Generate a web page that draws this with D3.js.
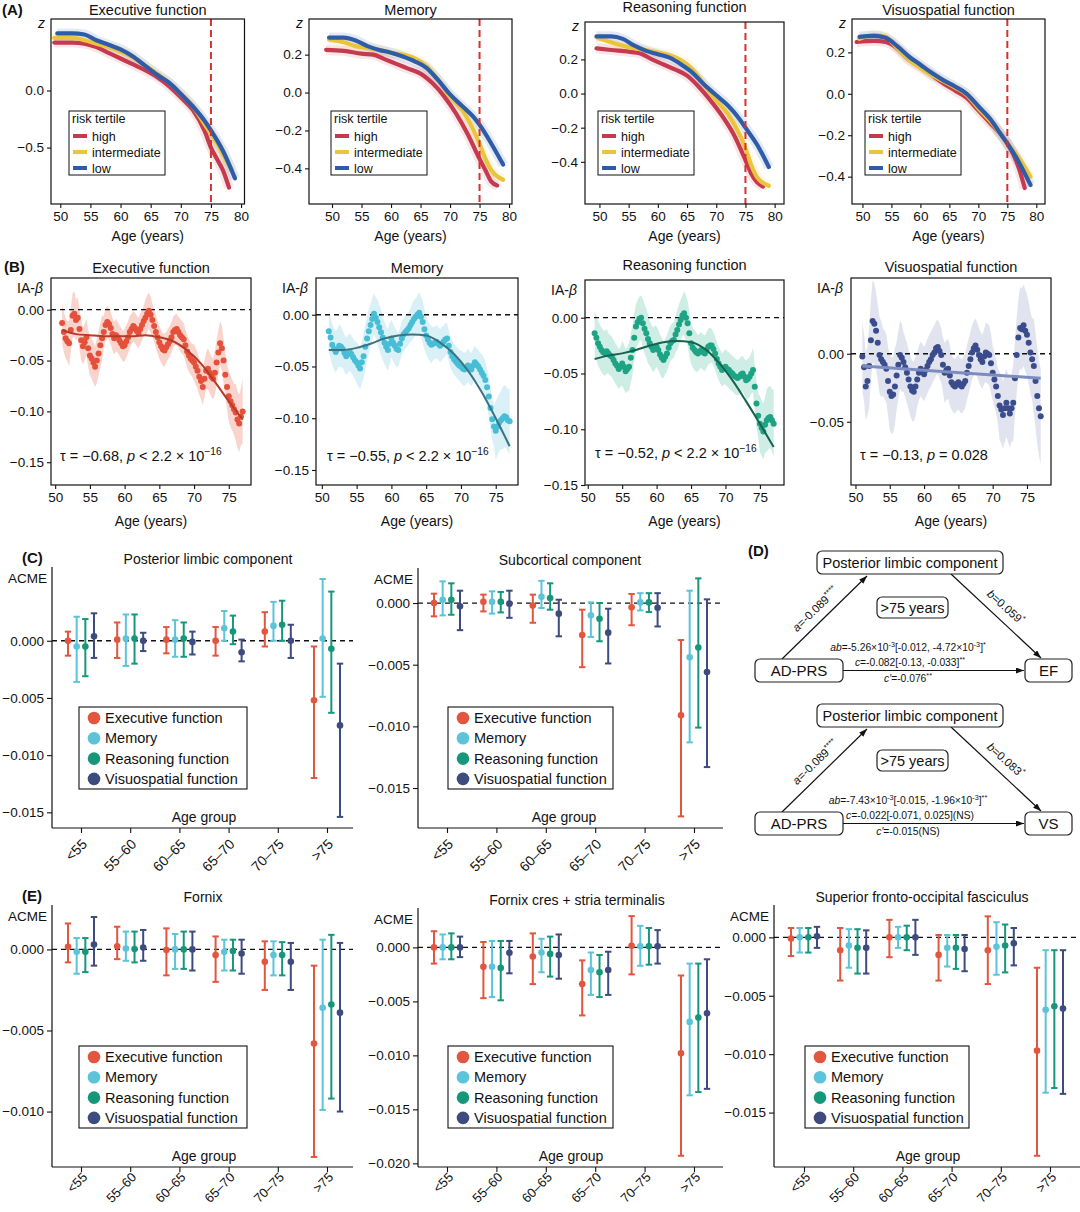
<!DOCTYPE html>
<html>
<head>
<meta charset="utf-8">
<script src="https://cdn.jsdelivr.net/npm/d3@7"></script>
<style>
  body { margin: 0; background: #fff; }
  text { font-family: "Liberation Sans", Arial, Helvetica, sans-serif; fill: #111; }
</style>
</head>
<body>
<svg id="fig" width="1080" height="1212"></svg>
<script>
// ---------- panel A: z-score trajectories by AD risk tertile ----------
const riskLevels = ['high', 'intermediate', 'low'];
const riskColors = ['#c63a4f', '#eac53c', '#2f5ca8'];
const aAgeTicks = [50, 55, 60, 65, 70, 75, 80];

const aEF_high = [[49,0.42],[52,0.42],[54,0.41],[56,0.38],[58,0.33],[60,0.28],[62,0.23],[64,0.18],[66,0.12],[68,0.04],[70,-0.06],[72,-0.17],[74,-0.36],[75,-0.5],[76,-0.6],[77,-0.7],[78,-0.85]];
const aEF_int  = [[49,0.46],[52,0.46],[54,0.44],[56,0.41],[58,0.38],[60,0.34],[62,0.29],[64,0.22],[66,0.15],[68,0.07],[70,-0.03],[72,-0.14],[74,-0.3],[75,-0.38],[76,-0.46],[77,-0.56],[78.5,-0.7]];
const aEF_low  = [[49.5,0.5],[52,0.5],[54,0.49],[56,0.44],[58,0.4],[60,0.36],[62,0.3],[64,0.22],[66,0.14],[68,0.07],[70,-0.03],[72,-0.14],[74,-0.27],[75,-0.35],[77,-0.53],[79,-0.77]];

const aMEM_high = [[49,0.225],[52,0.22],[55,0.205],[57,0.2],[59,0.175],[61,0.15],[63,0.125],[65,0.1],[67,0.05],[69,-0.02],[71,-0.11],[73,-0.22],[75,-0.35],[76,-0.41],[77,-0.47],[78,-0.49]];
const aMEM_int  = [[49.5,0.28],[52,0.265],[54,0.245],[56,0.235],[58,0.225],[60,0.21],[62,0.2],[64,0.18],[66,0.14],[68,0.065],[70,-0.02],[72,-0.09],[74,-0.2],[75,-0.27],[76,-0.35],[77,-0.41],[79,-0.46]];
const aMEM_low  = [[49.5,0.29],[52,0.29],[54,0.275],[56,0.245],[58,0.225],[60,0.21],[62,0.19],[64,0.165],[66,0.13],[68,0.065],[70,-0.01],[72,-0.07],[74,-0.13],[75,-0.17],[77,-0.27],[79,-0.38]];

const aRF_high = [[49.5,0.265],[52,0.255],[55,0.245],[57,0.235],[59,0.2],[61,0.17],[63,0.14],[65,0.105],[67,0.04],[69,-0.04],[71,-0.13],[73,-0.24],[75,-0.39],[76,-0.47],[77,-0.52],[78,-0.545]];
const aRF_int  = [[49.5,0.33],[52,0.3],[54,0.28],[56,0.265],[58,0.255],[60,0.24],[62,0.225],[64,0.195],[66,0.14],[68,0.05],[70,-0.04],[72,-0.12],[74,-0.24],[75,-0.32],[76,-0.42],[77,-0.49],[79,-0.54]];
const aRF_low  = [[49.5,0.335],[52,0.335],[54,0.32],[56,0.28],[58,0.25],[60,0.23],[62,0.21],[64,0.17],[66,0.12],[68,0.05],[70,-0.01],[72,-0.07],[74,-0.15],[75,-0.2],[77,-0.3],[79,-0.43]];

const aVS_high = [[49,0.25],[52,0.255],[54,0.25],[56,0.22],[58,0.165],[60,0.13],[62,0.09],[64,0.05],[66,0.015],[68,-0.02],[70,-0.08],[72,-0.14],[74,-0.2],[75,-0.24],[76,-0.29],[77,-0.36],[78,-0.455]];
const aVS_int  = [[49.5,0.265],[52,0.285],[54,0.275],[56,0.22],[58,0.165],[60,0.125],[62,0.09],[64,0.06],[66,0.03],[68,-0.005],[70,-0.07],[72,-0.13],[74,-0.2],[75,-0.24],[77,-0.31],[79,-0.4]];
const aVS_low  = [[49.5,0.275],[52,0.28],[54,0.27],[56,0.23],[58,0.18],[60,0.14],[62,0.1],[64,0.065],[66,0.035],[68,0],[70,-0.06],[72,-0.12],[74,-0.2],[75,-0.24],[77,-0.33],[79,-0.44]];

// ---------- panel B: interaction beta by age ----------
const bAges = d3.range(51, 77.001, 0.25);
const bAgeTicks = [50, 55, 60, 65, 70, 75];
const bEF = [-0.013,-0.022,-0.028,-0.031,-0.033,-0.020,-0.006,-0.004,-0.010,-0.008,-0.019,-0.030,-0.036,-0.032,-0.027,-0.038,-0.045,-0.048,-0.052,-0.056,-0.050,-0.043,-0.035,-0.028,-0.022,-0.015,-0.012,-0.014,-0.018,-0.024,-0.028,-0.025,-0.027,-0.030,-0.033,-0.036,-0.035,-0.031,-0.027,-0.022,-0.019,-0.016,-0.018,-0.021,-0.023,-0.019,-0.015,-0.011,-0.008,-0.004,-0.001,-0.005,-0.010,-0.016,-0.022,-0.027,-0.032,-0.036,-0.039,-0.040,-0.037,-0.034,-0.031,-0.027,-0.022,-0.020,-0.019,-0.022,-0.025,-0.027,-0.029,-0.035,-0.041,-0.045,-0.048,-0.050,-0.052,-0.056,-0.060,-0.066,-0.070,-0.076,-0.068,-0.060,-0.058,-0.062,-0.066,-0.068,-0.062,-0.052,-0.042,-0.033,-0.038,-0.050,-0.064,-0.076,-0.085,-0.090,-0.094,-0.098,-0.101,-0.108,-0.112,-0.105,-0.100];
const bMEM = [-0.016,-0.022,-0.029,-0.033,-0.036,-0.033,-0.030,-0.031,-0.033,-0.037,-0.040,-0.038,-0.036,-0.038,-0.041,-0.044,-0.046,-0.049,-0.052,-0.046,-0.040,-0.031,-0.023,-0.016,-0.010,-0.004,0.001,-0.003,-0.007,-0.012,-0.017,-0.022,-0.027,-0.031,-0.034,-0.028,-0.023,-0.027,-0.030,-0.033,-0.034,-0.028,-0.023,-0.019,-0.017,-0.015,-0.013,-0.010,-0.007,-0.004,-0.002,0.000,0.002,-0.002,-0.007,-0.014,-0.020,-0.024,-0.027,-0.029,-0.028,-0.027,-0.026,-0.028,-0.030,-0.028,-0.026,-0.024,-0.023,-0.030,-0.036,-0.040,-0.043,-0.045,-0.047,-0.049,-0.050,-0.052,-0.053,-0.051,-0.049,-0.051,-0.053,-0.049,-0.046,-0.048,-0.050,-0.053,-0.056,-0.059,-0.063,-0.070,-0.079,-0.090,-0.101,-0.108,-0.112,-0.108,-0.104,-0.102,-0.100,-0.098,-0.099,-0.102,-0.103];
const bRF = [-0.014,-0.018,-0.023,-0.026,-0.029,-0.031,-0.032,-0.030,-0.032,-0.034,-0.035,-0.038,-0.041,-0.043,-0.046,-0.044,-0.041,-0.044,-0.048,-0.046,-0.044,-0.036,-0.029,-0.018,-0.008,-0.004,-0.001,0.000,-0.005,-0.010,-0.014,-0.019,-0.023,-0.026,-0.029,-0.027,-0.026,-0.029,-0.033,-0.036,-0.038,-0.035,-0.032,-0.027,-0.023,-0.021,-0.020,-0.015,-0.011,-0.006,-0.002,0.002,0.004,0.000,-0.005,-0.014,-0.023,-0.027,-0.029,-0.031,-0.032,-0.030,-0.029,-0.031,-0.032,-0.029,-0.026,-0.025,-0.025,-0.028,-0.032,-0.037,-0.041,-0.044,-0.047,-0.045,-0.044,-0.046,-0.047,-0.049,-0.050,-0.052,-0.053,-0.054,-0.053,-0.051,-0.050,-0.053,-0.056,-0.055,-0.053,-0.050,-0.047,-0.062,-0.077,-0.088,-0.095,-0.099,-0.102,-0.096,-0.092,-0.090,-0.089,-0.092,-0.095];
const bVS = [-0.002,-0.010,-0.024,-0.020,-0.009,0.010,0.024,0.022,0.017,0.008,-0.001,-0.004,-0.006,-0.008,-0.011,-0.020,-0.028,-0.031,-0.030,-0.024,-0.016,-0.008,-0.001,-0.003,-0.006,-0.010,-0.014,-0.019,-0.024,-0.027,-0.028,-0.024,-0.019,-0.014,-0.011,-0.013,-0.015,-0.012,-0.009,-0.006,-0.004,-0.001,0.001,0.004,0.005,0.002,-0.001,-0.008,-0.014,-0.012,-0.011,-0.016,-0.021,-0.023,-0.024,-0.022,-0.021,-0.023,-0.024,-0.022,-0.020,-0.014,-0.009,-0.004,0.001,0.004,0.006,0.003,-0.001,-0.004,-0.006,-0.002,0.001,0.000,-0.001,-0.007,-0.014,-0.019,-0.024,-0.031,-0.038,-0.041,-0.045,-0.040,-0.036,-0.040,-0.044,-0.040,-0.036,-0.018,-0.001,0.012,0.019,0.018,0.021,0.017,0.014,0.008,0.001,-0.004,-0.009,-0.020,-0.031,-0.040,-0.046];
// confidence half-width, one value per year of age 51..77
const bHW_EF  = [0.020,0.022,0.020,0.018,0.020,0.022,0.016,0.016,0.015,0.016,0.015,0.015,0.018,0.016,0.016,0.015,0.015,0.016,0.016,0.018,0.018,0.020,0.022,0.022,0.025,0.028,0.032];
const bHW_MEM = [0.020,0.020,0.018,0.018,0.020,0.022,0.020,0.022,0.020,0.018,0.016,0.016,0.018,0.020,0.018,0.016,0.016,0.015,0.015,0.016,0.016,0.016,0.018,0.020,0.028,0.030,0.032];
const bHW_RF  = [0.020,0.020,0.018,0.018,0.020,0.022,0.020,0.022,0.020,0.018,0.016,0.016,0.018,0.020,0.018,0.016,0.016,0.015,0.015,0.016,0.016,0.016,0.018,0.020,0.025,0.028,0.030];
const bHW_VS  = [0.025,0.030,0.028,0.025,0.028,0.025,0.022,0.022,0.020,0.020,0.020,0.020,0.022,0.020,0.020,0.020,0.020,0.020,0.022,0.020,0.025,0.025,0.028,0.030,0.030,0.035,0.035];
// smooth fits
const bFitAges = [51,53,55,57,59,61,63,65,67,69,71,73,75,77];
const bFitEF  = [-0.020,-0.024,-0.025,-0.026,-0.026,-0.026,-0.025,-0.027,-0.031,-0.040,-0.053,-0.071,-0.090,-0.108];
const bFitMEM = [-0.034,-0.034,-0.032,-0.028,-0.023,-0.020,-0.019,-0.020,-0.027,-0.038,-0.054,-0.075,-0.100,-0.127];
const bFitRF  = [-0.037,-0.034,-0.032,-0.029,-0.025,-0.022,-0.021,-0.022,-0.028,-0.040,-0.056,-0.075,-0.095,-0.116];
const bFitVSAges = [51, 77];
const bFitVS  = [-0.009, -0.018];

// ---------- panels C and E: ACME by age group ----------
const ageGroups = ['<55', '55–60', '60–65', '65–70', '70–75', '>75'];
const cogFunctions = ['Executive function', 'Memory', 'Reasoning function', 'Visuospatial function'];
const cogColors = ['#e2553f', '#5cc3d9', '#16977a', '#3d4b7e'];

// rows: EF, Memory, Reasoning, Visuospatial; columns: age groups
const postLimbicEst = [[0.0000,0.0001,0.0001,0.0000,0.0008,-0.0052],[-0.0005,0.0002,0.0001,0.0011,0.0013,0.0002],[-0.0005,0.0002,0.0002,0.0008,0.0014,-0.0007],[0.0004,0.0000,-0.0001,-0.0010,0.0000,-0.0074]];
const postLimbicHi  = [[0.0008,0.0016,0.0012,0.0012,0.0025,-0.0005],[0.0021,0.0023,0.0018,0.0026,0.0034,0.0054],[0.0019,0.0023,0.0016,0.0022,0.0035,0.0043],[0.0024,0.0007,0.0008,0.0001,0.0014,-0.0020]];
const postLimbicLo  = [[-0.0013,-0.0015,-0.0011,-0.0013,-0.0005,-0.0120],[-0.0036,-0.0022,-0.0014,0.0000,0.0000,-0.0049],[-0.0031,-0.0020,-0.0014,-0.0003,0.0000,-0.0063],[-0.0015,-0.0009,-0.0012,-0.0018,-0.0015,-0.0154]];

const subcorticalEst = [[0.0000,0.0001,-0.0002,-0.0026,-0.00035,-0.0091],[0.00027,0.0001,0.0005,-0.0010,0.00005,-0.0044],[0.00027,0.0001,0.0004,-0.00127,0.00005,-0.0036],[-0.00027,-0.00005,-0.00086,-0.0024,-0.00038,-0.0056]];
const subcorticalHi  = [[0.00076,0.00068,0.00068,-0.00054,0.00073,-0.0030],[0.00176,0.00095,0.0018,0.00005,0.0008,0.0010],[0.0016,0.0009,0.0016,0.0000,0.0008,0.0020],[0.0010,0.0010,0.00027,-0.00046,0.0008,0.0003]];
const subcorticalLo  = [[-0.00108,-0.00068,-0.0016,-0.0052,-0.0018,-0.0173],[-0.0010,-0.00086,-0.0004,-0.00275,-0.0006,-0.0113],[-0.00095,-0.00076,-0.00054,-0.0031,-0.00073,-0.0101],[-0.0022,-0.0012,-0.0027,-0.0049,-0.0019,-0.0133]];

const fornixEst = [[0.00016,0.0002,-0.00004,-0.00035,-0.00076,-0.0058],[-0.00014,0.00006,0,-0.00014,-0.00035,-0.0036],[-0.00014,0.00002,0,-0.0001,-0.00035,-0.0034],[0.0003,0.00012,0,-0.00025,-0.00076,-0.0039]];
const fornixHi  = [[0.0016,0.0014,0.0013,0.0008,0.0005,-0.0010],[0.0007,0.0011,0.00095,0.0006,0.0005,0.0006],[0.0007,0.0011,0.0011,0.0006,0.00045,0.0009],[0.0020,0.0012,0.0011,0.0006,0.0004,0.0004]];
const fornixLo  = [[-0.0008,-0.0006,-0.0016,-0.0020,-0.0025,-0.0128],[-0.0015,-0.0007,-0.0012,-0.0013,-0.0016,-0.0099],[-0.0014,-0.0008,-0.0012,-0.0013,-0.0016,-0.0092],[-0.0010,-0.0007,-0.0013,-0.0015,-0.0025,-0.0100]];

const fornixCresEst = [[0,-0.0018,-0.00084,-0.0034,0.00015,-0.0098],[0,-0.0018,-0.00047,-0.0021,0.0001,-0.0069],[0,-0.0019,-0.0006,-0.0023,0.0001,-0.0065],[0,-0.0005,-0.0007,-0.0021,0.0001,-0.0061]];
const fornixCresHi  = [[0.0015,0.0005,0.0013,-0.0012,0.0029,-0.0026],[0.0012,0.0006,0.0008,-0.00047,0.0020,-0.0015],[0.0013,0.0006,0.0010,-0.0007,0.0018,-0.0015],[0.0010,0.0006,0.0012,-0.0004,0.0016,-0.0011]];
const fornixCresLo  = [[-0.0015,-0.0047,-0.0034,-0.0063,-0.0025,-0.0193],[-0.0011,-0.0046,-0.0023,-0.0044,-0.0017,-0.0137],[-0.0011,-0.0049,-0.0027,-0.0046,-0.0016,-0.0134],[-0.0009,-0.0024,-0.0029,-0.0044,-0.0015,-0.0131]];

const sfofEst = [[-0.0001,-0.0011,0,-0.0015,-0.0011,-0.0097],[0,-0.0007,0,-0.0009,-0.0008,-0.0062],[0,-0.0009,0,-0.0009,-0.0007,-0.0059],[0.0001,-0.0009,0,-0.0010,-0.0005,-0.0061]];
const sfofHi  = [[0.0008,0.0008,0.0015,0.0002,0.0018,-0.0026],[0.0008,0.0007,0.0009,0.0002,0.0013,-0.0011],[0.0008,0.0007,0.0010,0.0002,0.0011,-0.0011],[0.0009,0.0006,0.0015,0.0002,0.0008,-0.0011]];
const sfofLo  = [[-0.0016,-0.0037,-0.0017,-0.0037,-0.0040,-0.0187],[-0.0013,-0.0026,-0.0009,-0.0025,-0.0032,-0.0133],[-0.0013,-0.0031,-0.0011,-0.0027,-0.0030,-0.0129],[-0.0009,-0.0031,-0.0015,-0.0029,-0.0024,-0.0134]];

const svg = d3.select('#fig');
const defs = svg.append('defs');

function styleAxis(g, size) {
  g.select('.domain').remove();
  g.selectAll('line').attr('stroke', '#111').attr('stroke-width', 1.1);
  g.selectAll('text').attr('font-size', size).attr('fill', '#111');
}

// text made of runs: {t, it: italic, sup: superscript}
function rich(parent, x, y, segs, size, anchor) {
  const t = parent.append('text').attr('x', x).attr('y', y)
    .attr('font-size', size).attr('text-anchor', anchor || 'start');
  let shift = 0;
  segs.forEach(s => {
    const ts = t.append('tspan').text(s.t);
    if (s.it) ts.attr('font-style', 'italic');
    const target = s.sup ? -size * 0.4 : 0;
    if (target !== shift) { ts.attr('dy', target - shift); shift = target; }
    if (s.sup) ts.attr('font-size', size * 0.7);
  });
  return t;
}

function panelLetter(x, y, s) {
  svg.append('text').attr('x', x).attr('y', y).attr('font-size', 15)
    .attr('font-weight', 'bold').text(s);
}

// ---------- draw A ----------
function drawA(p) {
  const x = d3.scaleLinear().domain(p.xDom).range([p.left, p.right]);
  const y = d3.scaleLinear().domain(p.yDom).range([p.bottom, p.top]);
  const g = svg.append('g');
  defs.append('clipPath').attr('id', 'clip' + p.id).append('rect')
    .attr('x', p.left).attr('y', p.top).attr('width', p.right - p.left).attr('height', p.bottom - p.top);
  const plot = g.append('g').attr('clip-path', `url(#clip${p.id})`);
  const line = d3.line().x(d => x(d[0])).y(d => y(d[1])).curve(d3.curveMonotoneX);

  p.series.forEach((s, i) => {
    plot.append('path').datum(s).attr('d', line).attr('fill', 'none')
      .attr('stroke', riskColors[i]).attr('stroke-opacity', 0.13).attr('stroke-width', 10);
  });
  p.series.forEach((s, i) => {
    plot.append('path').datum(s).attr('d', line).attr('fill', 'none')
      .attr('stroke', riskColors[i]).attr('stroke-width', 4.2).attr('stroke-linecap', 'round');
  });
  plot.append('line').attr('x1', x(75)).attr('x2', x(75)).attr('y1', p.top).attr('y2', p.bottom)
    .attr('stroke', '#d8302c').attr('stroke-width', 2).attr('stroke-dasharray', '7,4');

  g.append('rect').attr('x', p.left).attr('y', p.top).attr('width', p.right - p.left)
    .attr('height', p.bottom - p.top).attr('fill', 'none').attr('stroke', '#111').attr('stroke-width', 1.2);

  g.append('g').attr('transform', `translate(0,${p.bottom})`)
    .call(d3.axisBottom(x).tickValues(aAgeTicks).tickSize(4).tickPadding(3))
    .call(styleAxis, 13.5);
  g.append('g').attr('transform', `translate(${p.left},0)`)
    .call(d3.axisLeft(y).tickValues(p.yTicks).tickFormat(d3.format('.1f')).tickSize(4).tickPadding(3))
    .call(styleAxis, 13.5);

  g.append('text').attr('x', p.left - 6).attr('y', p.top + 9).attr('text-anchor', 'end')
    .attr('font-size', 14).attr('font-style', 'italic').text('z');
  g.append('text').attr('x', (p.left + p.right) / 2).attr('y', p.titleY).attr('text-anchor', 'middle')
    .attr('font-size', 14.5).text(p.title);
  g.append('text').attr('x', (p.left + p.right) / 2).attr('y', 241).attr('text-anchor', 'middle')
    .attr('font-size', 14).text('Age (years)');

  // legend
  const lg = g.append('g').attr('transform', `translate(${p.legendX},111)`);
  lg.append('rect').attr('width', 96).attr('height', 64).attr('fill', '#fff')
    .attr('stroke', '#111').attr('stroke-width', 1);
  lg.append('text').attr('x', 3).attr('y', 12).attr('font-size', 12.5).text('risk tertile');
  riskLevels.forEach((r, i) => {
    const yy = 25 + i * 16;
    lg.append('line').attr('x1', 4).attr('x2', 18).attr('y1', yy).attr('y2', yy)
      .attr('stroke', riskColors[i]).attr('stroke-width', 4);
    lg.append('text').attr('x', 23).attr('y', yy + 4.5).attr('font-size', 12.5).text(r);
  });
}

drawA({ id: 'A1', left: 51, right: 244.5, top: 19, bottom: 204, xDom: [48.46, 80.57], yDom: [-0.994, 0.626],
  yTicks: [0, -0.5], title: 'Executive function', titleY: 15, legendX: 69, series: [aEF_high, aEF_int, aEF_low] });
drawA({ id: 'A2', left: 309, right: 512, top: 19, bottom: 204, xDom: [46.1, 80.5], yDom: [-0.588, 0.388],
  yTicks: [0.2, 0, -0.2, -0.4], title: 'Memory', titleY: 15, legendX: 331, series: [aMEM_high, aMEM_int, aMEM_low] });
drawA({ id: 'A3', left: 585, right: 784, top: 22, bottom: 204, xDom: [47.53, 81.6], yDom: [-0.647, 0.419],
  yTicks: [0.2, 0, -0.2, -0.4], title: 'Reasoning function', titleY: 12, legendX: 598, series: [aRF_high, aRF_int, aRF_low] });
drawA({ id: 'A4', left: 852, right: 1045, top: 19, bottom: 204, xDom: [48.2, 81.5], yDom: [-0.532, 0.361],
  yTicks: [0.2, 0, -0.2, -0.4], title: 'Visuospatial function', titleY: 15, legendX: 865, series: [aVS_high, aVS_int, aVS_low] });
panelLetter(2, 15, '(A)');

// ---------- draw B ----------
function drawB(p) {
  const x = d3.scaleLinear().domain(p.xDom).range([p.left, p.right]);
  const y = d3.scaleLinear().domain(p.yDom).range([p.bottom, p.top]);
  const g = svg.append('g');
  defs.append('clipPath').attr('id', 'clip' + p.id).append('rect')
    .attr('x', p.left).attr('y', p.top).attr('width', p.right - p.left).attr('height', p.bottom - p.top);
  const plot = g.append('g').attr('clip-path', `url(#clip${p.id})`);

  const pts = bAges.map((a, i) => ({ age: a, v: p.values[i], hw: p.hw[Math.min(26, Math.floor(a - 51))] }));
  const band = d3.area().x(d => x(d.age)).y0(d => y(d.v - d.hw)).y1(d => y(d.v + d.hw));
  plot.append('path').datum(pts).attr('d', band).attr('fill', p.bandColor).attr('opacity', 0.5);

  plot.append('line').attr('x1', p.left).attr('x2', p.right).attr('y1', y(0)).attr('y2', y(0))
    .attr('stroke', '#111').attr('stroke-width', 1.3).attr('stroke-dasharray', '5,4');

  plot.selectAll('circle').data(pts).join('circle')
    .attr('cx', d => x(d.age)).attr('cy', d => y(d.v)).attr('r', 3)
    .attr('fill', p.color);

  const fit = p.fitAges.map((a, i) => [a, p.fit[i]]);
  plot.append('path').datum(fit)
    .attr('d', d3.line().x(d => x(d[0])).y(d => y(d[1])).curve(d3.curveMonotoneX))
    .attr('fill', 'none').attr('stroke', p.fitColor).attr('stroke-width', p.fitWidth);

  g.append('rect').attr('x', p.left).attr('y', p.top).attr('width', p.right - p.left)
    .attr('height', p.bottom - p.top).attr('fill', 'none').attr('stroke', '#111').attr('stroke-width', 1.2);

  g.append('g').attr('transform', `translate(0,${p.bottom})`)
    .call(d3.axisBottom(x).tickValues(bAgeTicks).tickSize(4).tickPadding(3))
    .call(styleAxis, 13.5);
  g.append('g').attr('transform', `translate(${p.left},0)`)
    .call(d3.axisLeft(y).tickValues(p.yTicks).tickFormat(d3.format('.2f')).tickSize(4).tickPadding(3))
    .call(styleAxis, 13.5);

  rich(g, p.left - 8, p.top + 15, [{ t: 'IA-' }, { t: 'β', it: true }], 14, 'end');
  g.append('text').attr('x', (p.left + p.right) / 2).attr('y', p.titleY).attr('text-anchor', 'middle')
    .attr('font-size', 14.5).text(p.title);
  g.append('text').attr('x', (p.left + p.right) / 2).attr('y', 526).attr('text-anchor', 'middle')
    .attr('font-size', 14).text('Age (years)');
  rich(g, p.noteX, p.noteY, p.note, 14.5, 'start');
}

const pTiny = s => [{ t: s + ', ' }, { t: 'p', it: true }, { t: ' < 2.2 × 10' }, { t: '−16', sup: true }];

drawB({ id: 'B1', left: 51, right: 251, top: 278, bottom: 485, xDom: [49.4, 78.2], yDom: [-0.1724, 0.0312],
  yTicks: [0, -0.05, -0.1, -0.15], title: 'Executive function', titleY: 273, values: bEF, hw: bHW_EF,
  color: '#e4503a', bandColor: '#f3a999', fitAges: bFitAges, fit: bFitEF, fitColor: '#b63a28', fitWidth: 2,
  noteX: 60, noteY: 461, note: pTiny('τ = −0.68') });
drawB({ id: 'B2', left: 316, right: 518, top: 278, bottom: 485, xDom: [49.16, 78.2], yDom: [-0.1645, 0.0355],
  yTicks: [0, -0.05, -0.1, -0.15], title: 'Memory', titleY: 273, values: bMEM, hw: bHW_MEM,
  color: '#48bdd6', bandColor: '#b3e3ee', fitAges: bFitAges, fit: bFitMEM, fitColor: '#3b7480', fitWidth: 2,
  noteX: 327, noteY: 461, note: pTiny('τ = −0.55') });
drawB({ id: 'B3', left: 585, right: 784, top: 280, bottom: 485, xDom: [49.6, 78.5], yDom: [-0.150, 0.0338],
  yTicks: [0, -0.05, -0.1, -0.15], title: 'Reasoning function', titleY: 270, values: bRF, hw: bHW_RF,
  color: '#1ea485', bandColor: '#9edccb', fitAges: bFitAges, fit: bFitRF, fitColor: '#17624f', fitWidth: 2,
  noteX: 595, noteY: 458, note: pTiny('τ = −0.52') });
drawB({ id: 'B4', left: 851, right: 1051, top: 278, bottom: 485, xDom: [49.35, 78.5], yDom: [-0.0965, 0.0557],
  yTicks: [0, -0.05], title: 'Visuospatial function', titleY: 272, values: bVS, hw: bHW_VS,
  color: '#3a4c8c', bandColor: '#c3c9e0', fitAges: bFitVSAges, fit: bFitVS, fitColor: '#7c8cc0', fitWidth: 3,
  noteX: 860, noteY: 460, note: [{ t: 'τ = −0.13, ' }, { t: 'p', it: true }, { t: ' = 0.028' }] });
panelLetter(4, 272, '(B)');

// ---------- draw C / E ----------
function drawACME(p) {
  const y = d3.scaleLinear().domain(p.yDom).range([p.bottom, p.top]);
  const xg = d3.scalePoint().domain(ageGroups).range(p.groupRange);
  const xf = d3.scalePoint().domain(cogFunctions).range([-13, 13]);
  const g = svg.append('g');

  g.append('line').attr('x1', p.left).attr('x2', p.left).attr('y1', p.top).attr('y2', p.bottom)
    .attr('stroke', '#111').attr('stroke-width', 1.2);
  g.append('line').attr('x1', p.left).attr('x2', p.right).attr('y1', p.bottom).attr('y2', p.bottom)
    .attr('stroke', '#111').attr('stroke-width', 1.2);
  g.append('line').attr('x1', p.left).attr('x2', p.right).attr('y1', y(0)).attr('y2', y(0))
    .attr('stroke', '#111').attr('stroke-width', 1.3).attr('stroke-dasharray', '5,4');

  g.append('g').attr('transform', `translate(${p.left},0)`)
    .call(d3.axisLeft(y).tickValues(p.yTicks).tickFormat(d3.format('.3f')).tickSize(5).tickPadding(3))
    .call(styleAxis, 13.5);
  const xa = g.append('g').attr('transform', `translate(0,${p.bottom})`)
    .call(d3.axisBottom(xg).tickSize(5).tickFormat(''))
    .call(styleAxis, 13);
  xa.selectAll('text').remove();
  ageGroups.forEach(a => {
    g.append('text').attr('transform', `translate(${xg(a) + 7},${p.bottom + p.tickDrop}) rotate(-45)`)
      .attr('text-anchor', 'end').attr('font-size', p.tickFont).text(a);
  });

  cogFunctions.forEach((f, k) => {
    const rows = ageGroups.map((a, j) => ({ a, est: p.est[k][j], lo: p.lo[k][j], hi: p.hi[k][j] }));
    const bars = g.append('g').attr('stroke', cogColors[k]).attr('fill', cogColors[k]);
    rows.forEach(d => {
      const cx = xg(d.a) + xf(f);
      bars.append('line').attr('x1', cx).attr('x2', cx).attr('y1', y(d.lo)).attr('y2', y(d.hi)).attr('stroke-width', 2);
      bars.append('line').attr('x1', cx - 3.2).attr('x2', cx + 3.2).attr('y1', y(d.lo)).attr('y2', y(d.lo)).attr('stroke-width', 2);
      bars.append('line').attr('x1', cx - 3.2).attr('x2', cx + 3.2).attr('y1', y(d.hi)).attr('y2', y(d.hi)).attr('stroke-width', 2);
      bars.append('circle').attr('cx', cx).attr('cy', y(d.est)).attr('r', 3.3).attr('stroke', 'none');
    });
  });

  g.append('text').attr('x', p.left - 5).attr('y', p.top + 16).attr('text-anchor', 'end')
    .attr('font-size', 13.5).text('ACME');
  g.append('text').attr('x', p.titleX).attr('y', p.top - 3).attr('text-anchor', 'middle')
    .attr('font-size', 14).text(p.title);
  g.append('text').attr('x', p.labelX).attr('y', p.bottom - 6).attr('text-anchor', 'middle')
    .attr('font-size', 14).text('Age group');

  const lg = g.append('g').attr('transform', `translate(${p.legend[0]},${p.legend[1]})`);
  lg.append('rect').attr('width', p.legend[2]).attr('height', 82).attr('fill', '#fff')
    .attr('stroke', '#111').attr('stroke-width', 1.1);
  cogFunctions.forEach((f, k) => {
    const yy = 11 + k * 20.3;
    lg.append('circle').attr('cx', 15).attr('cy', yy).attr('r', 6.3).attr('fill', cogColors[k]);
    lg.append('text').attr('x', 26).attr('y', yy + 5).attr('font-size', 14.5).text(f);
  });
}

const cTicks = { tickDrop: 17, tickFont: 14 };
const eTicks = { tickDrop: 11, tickFont: 13 };
drawACME({ ...cTicks, left: 52, right: 353, top: 567, bottom: 828, yDom: [-0.01637, 0.00645], yTicks: [0, -0.005, -0.01, -0.015],
  groupRange: [81, 327], title: 'Posterior limbic component', titleX: 208, labelX: 204, legend: [79, 707, 168],
  est: postLimbicEst, lo: postLimbicLo, hi: postLimbicHi });
drawACME({ ...cTicks, left: 418, right: 723, top: 568, bottom: 828, yDom: [-0.01824, 0.00284], yTicks: [0, -0.005, -0.01, -0.015],
  groupRange: [447, 694], title: 'Subcortical component', titleX: 570, labelX: 564, legend: [448, 707, 165],
  est: subcorticalEst, lo: subcorticalLo, hi: subcorticalHi });
drawACME({ ...eTicks, left: 52, right: 353, top: 905, bottom: 1167, yDom: [-0.01342, 0.00274], yTicks: [0, -0.005, -0.01],
  groupRange: [81, 327], title: 'Fornix', titleX: 203, labelX: 204, legend: [79, 1046, 168],
  est: fornixEst, lo: fornixLo, hi: fornixHi });
drawACME({ ...eTicks, left: 418, right: 723, top: 908, bottom: 1167, yDom: [-0.02034, 0.00365], yTicks: [0, -0.005, -0.01, -0.015, -0.02],
  groupRange: [447, 694], title: 'Fornix cres + stria terminalis', titleX: 577, labelX: 571, legend: [448, 1046, 165],
  est: fornixCresEst, lo: fornixCresLo, hi: fornixCresHi });
drawACME({ ...eTicks, left: 774, right: 1080, top: 905, bottom: 1167, yDom: [-0.01966, 0.00277], yTicks: [0, -0.005, -0.01, -0.015],
  groupRange: [804, 1050], title: 'Superior fronto-occipital fasciculus', titleX: 922, labelX: 928, legend: [805, 1046, 164],
  est: sfofEst, lo: sfofLo, hi: sfofHi });
panelLetter(22, 563, '(C)');
panelLetter(22, 901, '(E)');

// ---------- D: mediation diagrams ----------
defs.append('marker').attr('id', 'arrow').attr('markerUnits', 'userSpaceOnUse')
  .attr('markerWidth', 8).attr('markerHeight', 6).attr('refX', 8).attr('refY', 3).attr('orient', 'auto')
  .append('path').attr('d', 'M0,0 L8,3 L0,6 z').attr('fill', '#111');

function nodeBox(g, x0, x1, y0, y1, label, size) {
  g.append('rect').attr('x', x0).attr('y', y0).attr('width', x1 - x0).attr('height', y1 - y0)
    .attr('rx', 5).attr('fill', '#fff').attr('stroke', '#222').attr('stroke-width', 1.2);
  g.append('text').attr('x', (x0 + x1) / 2).attr('y', (y0 + y1) / 2 + size * 0.36)
    .attr('text-anchor', 'middle').attr('font-size', size).text(label);
}
function arrow(g, x1, y1, x2, y2) {
  g.append('line').attr('x1', x1).attr('y1', y1).attr('x2', x2).attr('y2', y2)
    .attr('stroke', '#111').attr('stroke-width', 1.2).attr('marker-end', 'url(#arrow)');
}

const mediationOutcomes = ['EF', 'VS'];
const mediationA = [[{ t: 'a', it: true }, { t: '=-0.089' }, { t: '****', sup: true }], [{ t: 'a', it: true }, { t: '=-0.089' }, { t: '****', sup: true }]];
const mediationB = [[{ t: 'b', it: true }, { t: '=0.059' }, { t: '*', sup: true }], [{ t: 'b', it: true }, { t: '=0.083' }, { t: '*', sup: true }]];
const mediationAB = [
  [{ t: 'ab', it: true }, { t: '=-5.26×10' }, { t: '-3', sup: true }, { t: '[-0.012, -4.72×10' }, { t: '-3', sup: true }, { t: ']' }, { t: '*', sup: true }],
  [{ t: 'ab', it: true }, { t: '=-7.43×10' }, { t: '-3', sup: true }, { t: '[-0.015, -1.96×10' }, { t: '-3', sup: true }, { t: ']' }, { t: '**', sup: true }]];
const mediationC = [
  [{ t: 'c', it: true }, { t: '=-0.082[-0.13, -0.033]' }, { t: '**', sup: true }],
  [{ t: 'c', it: true }, { t: '=-0.022[-0.071, 0.025](NS)' }]];
const mediationCp = [
  [{ t: 'c′', it: true }, { t: '=-0.076' }, { t: '**', sup: true }],
  [{ t: 'c′', it: true }, { t: '=-0.015(NS)' }]];

mediationOutcomes.forEach((out, i) => {
  const dy = i * 153;
  const g = svg.append('g').attr('transform', `translate(0,${dy})`);
  arrow(g, 782, 659, 867, 576);
  arrow(g, 951, 574, 1041, 658);
  arrow(g, 843, 670.5, 1024, 670.5);
  nodeBox(g, 817, 1003, 551, 574, 'Posterior limbic component', 14.5);
  nodeBox(g, 877, 948, 597, 618, '>75 years', 14.5);
  nodeBox(g, 755, 843, 659, 682, 'AD-PRS', 15);
  nodeBox(g, 1025, 1072, 659, 682, out, 15);
  rich(g, 0, 0, mediationA[i], 11.5, 'middle').attr('transform', 'translate(818,612) rotate(-44)');
  rich(g, 0, 0, mediationB[i], 11.5, 'middle').attr('transform', 'translate(1003,610) rotate(42)');
  rich(g, 908, 651, mediationAB[i], 10.3, 'middle');
  rich(g, 910, 666, mediationC[i], 10.3, 'middle');
  rich(g, 908, 682, mediationCp[i], 10.3, 'middle');
});
panelLetter(748, 556, '(D)');
</script>
</body>
</html>
